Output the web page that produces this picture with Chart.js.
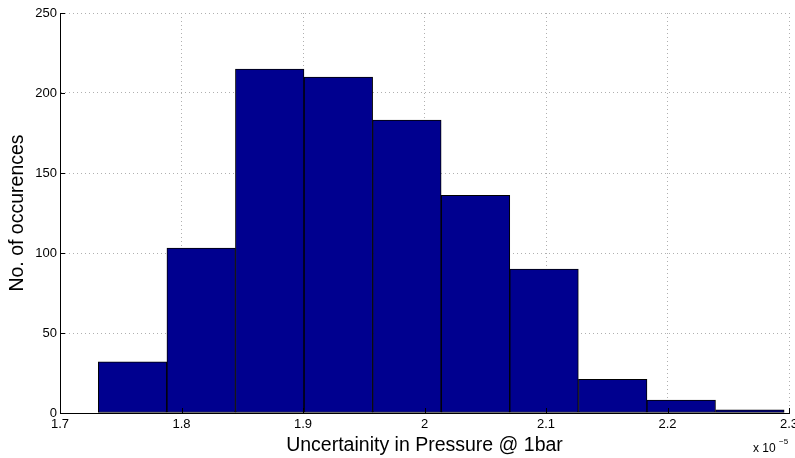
<!DOCTYPE html>
<html lang="en">
<head>
  <meta charset="UTF-8">
  <title>Uncertainty histogram</title>
  <script src="https://cdn.jsdelivr.net/npm/chart.js@4.4.0/dist/chart.umd.min.js"></script>
  <style>
    html, body { margin: 0; padding: 0; background: #fff; }
    #wrap { width: 795px; height: 458px; position: relative; }
  </style>
</head>
<body>
  <div id="wrap"><canvas id="hist"></canvas></div>

  <script>
    // bin centres, in units of 1e-5
    const binCenters = [1.7597, 1.8162, 1.8726, 1.9291, 1.9855, 2.0420, 2.0984, 2.1549, 2.2113, 2.2678];
    // counts per bin
    const counts = [32, 103, 215, 210, 183, 136, 90, 21, 8, 2];
    const xTicks = [1.7, 1.8, 1.9, 2.0, 2.1, 2.2, 2.3];
    const yTicks = [0, 50, 100, 150, 200, 250];

    const FONT = '"Liberation Sans", Arial, Helvetica, sans-serif';

    // MATLAB style inward ticks plus the exponent label
    const matlabTicks = {
      id: 'matlabTicks',
      afterDatasetsDraw(chart) {
        const ctx = chart.ctx;
        const xs = chart.scales.x, ys = chart.scales.y;
        const area = chart.chartArea;
        ctx.save();
        ctx.strokeStyle = '#000';
        ctx.lineWidth = 1;
        ctx.beginPath();
        xTicks.forEach(v => {
          const px = Math.round(xs.getPixelForValue(v)) + 0.5;
          ctx.moveTo(px, area.bottom);
          ctx.lineTo(px, area.bottom - 5);
        });
        yTicks.forEach(v => {
          const py = Math.round(ys.getPixelForValue(v)) + 0.5;
          ctx.moveTo(area.left, py);
          ctx.lineTo(area.left + 5, py);
        });
        ctx.stroke();

        // x 10^-5
        ctx.fillStyle = '#000';
        ctx.textBaseline = 'alphabetic';
        ctx.textAlign = 'left';
        ctx.font = '12px ' + FONT;
        ctx.fillText('x 10', 753, 452);
        ctx.font = '8px ' + FONT;
        ctx.fillText('\u22125', 779, 444);
        ctx.restore();
      }
    };

    new Chart(document.getElementById('hist'), {
      type: 'bar',
      data: {
        datasets: [{
          label: 'occurences',
          data: binCenters.map((x, i) => ({ x: x, y: counts[i] })),
          backgroundColor: 'rgb(0,0,143)',
          borderColor: '#000',
          borderWidth: 1,
          borderSkipped: false,
          barPercentage: 1.0,
          categoryPercentage: 1.0
        }]
      },
      options: {
        responsive: true,
        maintainAspectRatio: false,
        animation: false,
        layout: { padding: { left: 0, right: 6, top: 13, bottom: 0 } },
        plugins: {
          legend: { display: false },
          tooltip: { enabled: false }
        },
        scales: {
          x: {
            type: 'linear',
            offset: false,
            min: 1.7,
            max: 2.3,
            afterBuildTicks: scale => { scale.ticks = xTicks.map(v => ({ value: v })); },
            afterFit: scale => { scale.height = 45; scale.paddingLeft = 0; scale.paddingRight = 0; },
            grid: { color: '#b0b0b0', lineWidth: 1, drawTicks: false, offset: false },
            border: { display: true, color: '#000', width: 1, dash: [1, 3] },
            ticks: {
              color: '#000',
              font: { family: FONT, size: 13 },
              padding: 4,
              maxRotation: 0,
              autoSkip: false,
              callback: v => String(+(+v).toFixed(1))
            },
            title: {
              display: true,
              text: 'Uncertainity in Pressure @ 1bar',
              color: '#000',
              font: { family: FONT, size: 19.5 },
              padding: { top: 0, bottom: 1 }
            }
          },
          y: {
            min: 0,
            max: 250,
            afterBuildTicks: scale => { scale.ticks = yTicks.map(v => ({ value: v })); },
            afterFit: scale => { scale.width = 60; },
            grid: { color: '#b0b0b0', lineWidth: 1, drawTicks: false },
            border: { display: true, color: '#000', width: 1, dash: [1, 3] },
            ticks: {
              color: '#000',
              font: { family: FONT, size: 13 },
              padding: 3
            },
            title: {
              display: true,
              text: 'No. of occurences',
              color: '#000',
              font: { family: FONT, size: 19.5 },
              padding: { top: 6, bottom: 0 }
            }
          }
        }
      },
      plugins: [matlabTicks]
    });
  </script>
</body>
</html>
